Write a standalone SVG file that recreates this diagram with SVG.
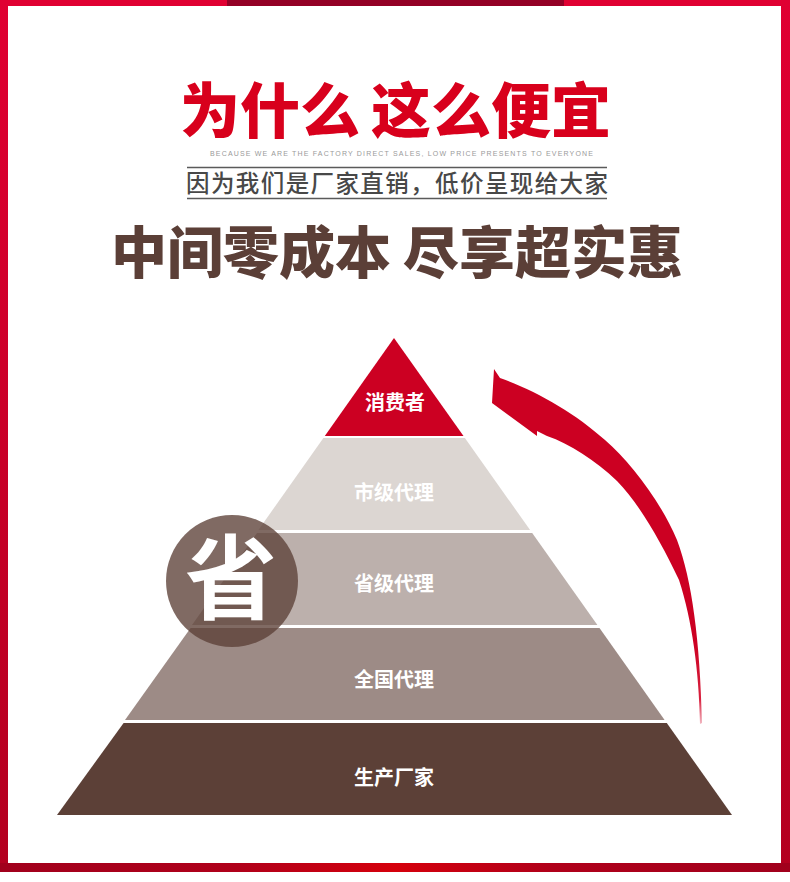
<svg xmlns="http://www.w3.org/2000/svg" width="790" height="882" viewBox="0 0 790 882">
<defs>
<style>
.cjk{font-family:"Noto Sans CJK SC","Noto Sans",sans-serif}
.lbl{font-family:"Noto Sans CJK SC","Noto Sans",sans-serif;font-size:20px;font-weight:700;fill:#ffffff;text-anchor:middle}
.rule{stroke:#5a5a5a;stroke-width:1.5}
</style>
<linearGradient id="side" x1="0" y1="0" x2="0" y2="1">
<stop offset="0" stop-color="#e00032"/>
<stop offset="1" stop-color="#b3001f"/>
</linearGradient>
<linearGradient id="bottom" x1="0" y1="0" x2="1" y2="0">
<stop offset="0" stop-color="#a1001c"/>
<stop offset="0.3" stop-color="#b0001a"/>
<stop offset="0.5" stop-color="#d5000c"/>
<stop offset="0.7" stop-color="#b0001a"/>
<stop offset="1" stop-color="#a1001c"/>
</linearGradient>
<linearGradient id="arrowFade" gradientUnits="userSpaceOnUse" x1="0" y1="640" x2="0" y2="724">
<stop offset="0" stop-color="#cc0022"/>
<stop offset="0.7" stop-color="#d8203e"/>
<stop offset="1" stop-color="#f2b8c2"/>
</linearGradient>
</defs>
<rect x="0" y="0" width="790" height="882" fill="#ffffff"/>
<g id="frame">
<rect x="0" y="0" width="790" height="6" fill="#e00032"/>
<rect x="227" y="0" width="337" height="6" fill="#930026"/>
<rect x="0" y="0" width="8" height="872" fill="url(#side)"/>
<rect x="781" y="0" width="9" height="872" fill="url(#side)"/>
<rect x="0" y="863" width="790" height="9" fill="url(#bottom)"/>
</g>
<g id="header">
<text class="cjk" x="180" y="133" font-size="60" font-weight="900" fill="#d8001c">为什么</text>
<text class="cjk" x="371" y="133" font-size="60" font-weight="900" fill="#d8001c">这么便宜</text>
<text x="210" y="156" font-family="Liberation Sans, Arial, sans-serif" font-size="7" fill="#9a9a9a" textLength="383" lengthAdjust="spacing">BECAUSE WE ARE THE FACTORY DIRECT SALES, LOW PRICE PRESENTS TO EVERYONE</text>
<line class="rule" x1="187" y1="167.5" x2="607" y2="167.5"/>
<text class="cjk" x="186" y="192" font-size="23.5" font-weight="500" fill="#484848" textLength="422" lengthAdjust="spacing">因为我们是厂家直销，低价呈现给大家</text>
<line class="rule" x1="187" y1="198.5" x2="607" y2="198.5"/>
<text class="cjk" x="111" y="273" font-size="56" font-weight="900" fill="#5b3f37">中间零成本</text>
<text class="cjk" x="403" y="273" font-size="56" font-weight="900" fill="#5b3f37">尽享超实惠</text>
</g>
<g id="consumer">
<polygon points="394,338 463.5,436 324.8,436" fill="#cc0022"/>
<text class="lbl" x="395" y="410">消费者</text>
</g>
<g id="city-agent">
<polygon points="323.4,438 464.9,438 530.1,530 258.4,530" fill="#dcd6d2"/>
<text class="lbl" x="394" y="500">市级代理</text>
</g>
<g id="province-agent">
<polygon points="257,533 532.2,533 597.4,625 192,625" fill="#bcb0ac"/>
<text class="lbl" x="394" y="591">省级代理</text>
</g>
<g id="national-agent">
<polygon points="190.6,628 599.5,628 664.6,720 125,720" fill="#9d8b86"/>
<text class="lbl" x="394" y="687">全国代理</text>
</g>
<g id="factory">
<polygon points="123.6,723 666.8,723 732,815 57,815" fill="#5c4037"/>
<text class="lbl" x="394" y="785">生产厂家</text>
</g>
<g id="save-badge">
<circle cx="232" cy="581" r="66" fill="#5c4037" fill-opacity="0.78"/>
<text class="cjk" x="231" y="612" font-size="92" font-weight="700" fill="#ffffff" text-anchor="middle">省</text>
</g>
<g id="connectors">
<path d="M494 369 L500 378 C535 390 575 413 605 440 C630 462 660 500 677 540 C692 580 700 640 702 723 L700 724 C699 670 692 620 679 580 C660 540 640 505 617 481 C595 460 570 444 547 436 L537 431 L537 436 L492 403 Z" fill="url(#arrowFade)"/>
</g>
</svg>
